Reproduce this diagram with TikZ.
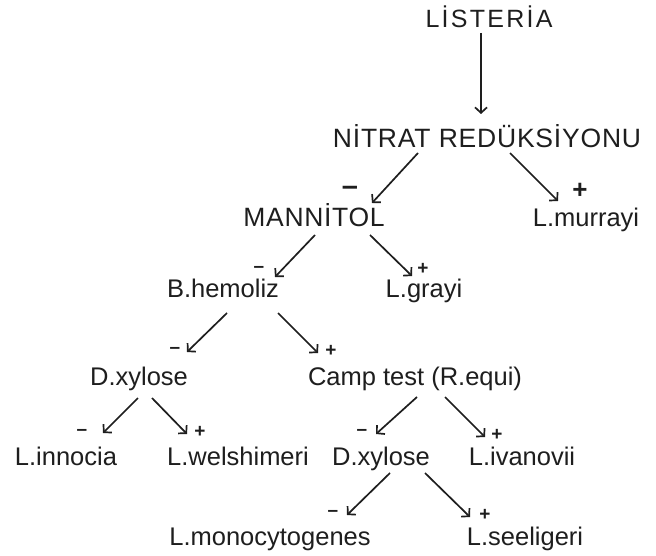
\documentclass[tikz,border=0pt]{standalone}
\usepackage{fontspec}
\setmainfont{Liberation Sans}
\usetikzlibrary{arrows.meta}
\definecolor{ink}{HTML}{1E1E1E}
\begin{document}
\begin{tikzpicture}[x=1pt,y=-1pt,
  lbl/.style={anchor=base,inner sep=0pt,text=ink,font=\fontsize{25.5}{28}\selectfont},
  caps/.style 2 args={anchor=base,inner sep=0pt,text=ink,font=\fontsize{#1}{28}\selectfont\addfontfeature{LetterSpace=#2}},
  sgn/.style={inner sep=0pt,text=ink,font=\fontsize{#1}{#1}\selectfont\bfseries},
  arr/.style={draw=ink,line width=1.7pt,-{Straight Barb[length=5.5pt,width=12pt,line width=1.7pt]}}]
\useasboundingbox[fill=white] (0,0) rectangle (656,556);
% nodes
\node[caps={25}{9}] (lis) at (489,28) {LİSTERİA};
\node[caps={26.5}{3}] (nit) at (487,148) {NİTRAT REDÜKSİYONU};
\node[caps={26.5}{2.5}] (man) at (314,227) {MANNİTOL};
\node[lbl] (mur) at (586,226) {L.murrayi};
\node[lbl] (bhe) at (223,297) {B.hemoliz};
\node[lbl] (gra) at (424,297) {L.grayi};
\node[lbl] (dx1) at (139,385) {D.xylose};
\node[lbl] (cam) at (415,385) {Camp test (R.equi)};
\node[lbl] (inn) at (66,465) {L.innocia};
\node[lbl] (wel) at (238,465) {L.welshimeri};
\node[lbl] (dx2) at (381,465) {D.xylose};
\node[lbl] (iva) at (522,465) {L.ivanovii};
\node[lbl] (mon) at (270,545) {L.monocytogenes};
\node[lbl] (see) at (525,545) {L.seeligeri};
% signs
\node[sgn=29] (s1) at (350,191) {–};
\node[sgn=26] (s2) at (580,191) {+};
\node[sgn=19] (s3) at (259,269) {–};
\node[sgn=19] (s4) at (423,269) {+};
\node[sgn=19] (s5) at (175,350) {–};
\node[sgn=19] (s6) at (331,351) {+};
\node[sgn=19] (s7) at (82,432) {–};
\node[sgn=19] (s8) at (200,432) {+};
\node[sgn=19] (s9) at (362,432) {–};
\node[sgn=19] (s10) at (497,435) {+};
\node[sgn=19] (s11) at (333,513) {–};
\node[sgn=19] (s12) at (485,515) {+};
% connector end points
\coordinate (a0s) at (481,33);  \coordinate (a0e) at (481,114);
\coordinate (a1s) at (418,153); \coordinate (a1e) at (372,203);
\coordinate (a2s) at (510,153); \coordinate (a2e) at (558,201);
\coordinate (a3s) at (315,235); \coordinate (a3e) at (275,277);
\coordinate (a4s) at (370,235); \coordinate (a4e) at (412,276);
\coordinate (a5s) at (227,313); \coordinate (a5e) at (187,352);
\coordinate (a6s) at (278,313); \coordinate (a6e) at (318,353);
\coordinate (a7s) at (138,398); \coordinate (a7e) at (103,433);
\coordinate (a8s) at (152,398); \coordinate (a8e) at (187,434);
\coordinate (a9s) at (417,397); \coordinate (a9e) at (376,434);
\coordinate (a10s) at (445,397); \coordinate (a10e) at (485,437);
\coordinate (a11s) at (390,473); \coordinate (a11e) at (347,515);
\coordinate (a12s) at (425,473); \coordinate (a12e) at (470,517);
\foreach \i in {0,...,12} \draw[arr] (a\i s) -- (a\i e);
\end{tikzpicture}
\end{document}
